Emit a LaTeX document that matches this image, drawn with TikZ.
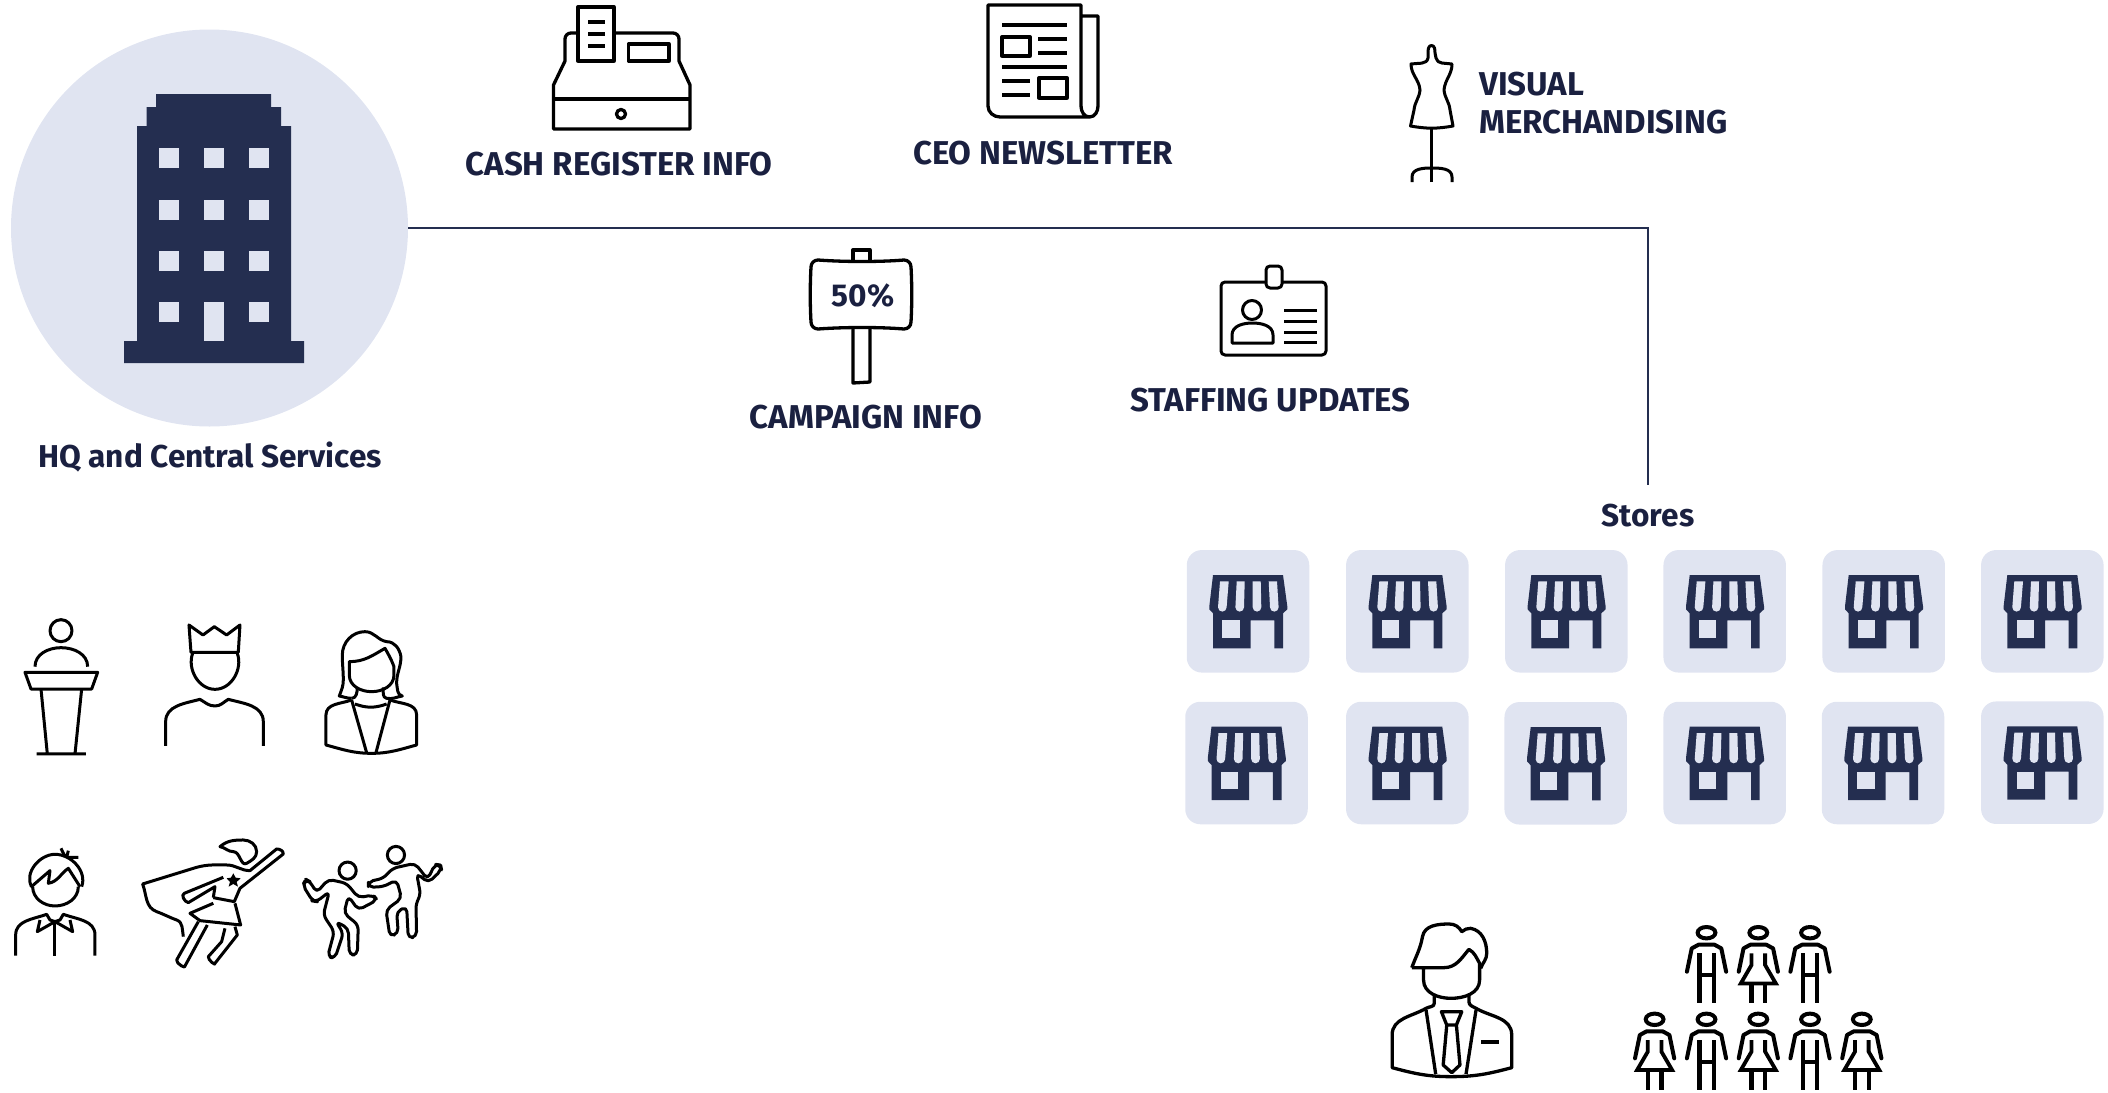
\documentclass[tikz,border=0pt]{standalone}
\usepackage{fontspec}
\setmainfont{Fira Sans}
\usetikzlibrary{positioning}

\definecolor{navy}{HTML}{242E50}
\definecolor{tilebg}{HTML}{E0E4F1}
\definecolor{labelcol}{HTML}{1A2040}

\tikzset{
    label/.style={text=labelcol, font=\fontsize{33}{38}\selectfont\bfseries, inner sep=0pt, align=center},
    lowlabel/.style={label, font=\fontsize{31.6}{38}\selectfont\bfseries},
    tile/.style={fill=tilebg, rounded corners=15pt, minimum size=122.5pt, inner sep=0pt},
    icon/.style={draw=black, line width=3.3pt, line join=round, fill=none},
    thin icon/.style={draw=black, line width=3pt, line join=round, fill=none},
    storeicon/.pic={
        \fill[navy] (-35,-36.3) -- (35,-36.3) -- (39.3,-5) -- (39.3,-2) -- (35,2) -- (35,37) -- (26.3,37) -- (26.3,9) -- (2.7,9) -- (2.7,37) -- (-35,37) -- (-35,2) -- (-38.7,-2) -- (-38.7,-5) -- cycle;
        \fill[tilebg] (-25.7,9) rectangle (-8.3,26.3);
        \foreach \ta/\tb/\bm in {-28/-19.3/-25.7, -11.3/-3.3/-8.3, 4.7/12.7/9, 20.7/29/26.3} {
            \fill[tilebg] (\ta,-30) -- (\tb,-30) -- ({\bm+4.3},-4) arc[start angle=0, end angle=180, radius=4.3] -- cycle;
        }
    },
    manfig/.pic={
        \draw[line width=4pt] (0,0) ellipse[x radius=8.9, y radius=5.7];
        \draw[line width=4pt, line cap=round, line join=round] (-19.6,39) -- (-14.8,15.7) -- (-8,12) -- (8,12) -- (14.8,15.7) -- (19.6,39);
        \draw[line width=4.2pt] (-7.1,20.7) -- (-7.1,70.7) (7.1,20.7) -- (7.1,70.7) (-7.1,42.3) -- (7.1,42.3);
    },
    womanfig/.pic={
        \draw[line width=4pt] (0,0) ellipse[x radius=8.9, y radius=5.7];
        \draw[line width=4pt, line cap=round, line join=round] (-19.6,39) -- (-14.8,15.7) -- (-8,12) -- (8,12) -- (14.8,15.7) -- (19.6,39);
        \draw[line width=3.8pt, line join=miter] (-6.8,20.7) -- (-6.8,32.3) -- (-17.5,50.7) -- (17.5,50.7) -- (6.8,32.3) -- (6.8,20.7);
        \draw[line width=4.2pt] (-6.8,50.7) -- (-6.8,70.7) (6.8,50.7) -- (6.8,70.7);
    }
}

\begin{document}
\begin{tikzpicture}[x=1pt, y=-1pt]
    \useasboundingbox (0,0) rectangle (2108,1092);

    % hq
    \node [circle, fill=tilebg, minimum size=397pt, inner sep=0pt] (hq) at (209.5,228) {};
    \fill[navy] (124,363) -- (124,341) -- (137,341) -- (137,126) -- (146.5,126) -- (146.5,107) -- (156,107) -- (156,94) -- (271,94) -- (271,107) -- (281,107) -- (281,126) -- (291,126) -- (291,341) -- (304,341) -- (304,363) -- cycle;
    \foreach \wy in {148,200,251,302} {
        \foreach \wx in {159,204,249} {
            \fill[tilebg] (\wx,\wy) rectangle ++(19.5,19.5);
        }
    }
    \fill[tilebg] (204,322) rectangle (223.5,341);
    \node [lowlabel] (hqlabel) at (210,457) {HQ and Central Services};

    % cash register
    \draw[icon] (553.5,129) -- (553.5,85) -- (565,61) -- (565,39) to[out=90, in=180] (571,33) -- (673,33) to[out=0, in=90] (679,39) -- (679,61) -- (690,85) -- (690,129) -- cycle;
    \draw[icon] (553.5,99) -- (690,99);
    \draw[icon, fill=white] (578,7) rectangle (614,61);
    \draw[icon] (588,22) -- (605,22) (588,34) -- (605,34) (588,46) -- (605,46);
    \draw[icon] (628.5,44) rectangle (669,61);
    \draw[icon] (621,114) circle (4.5);
    \node [label] (cashlabel) at (619,164) {CASH REGISTER INFO};

    % newsletter
    \draw[icon] (1081,16) -- (1098,16) -- (1098,106) to[out=-90, in=0] (1089.5,117) -- (1000,117) to[out=180, in=-90] (988,106) -- (988,5) -- (1081,5) -- (1081,106) to[out=-90, in=180] (1089.5,117);
    \draw[icon] (1002,25) -- (1067,25) (1002,67) -- (1067,67);
    \draw[icon] (1002,37) rectangle (1030,56) (1039,78) rectangle (1067,98);
    \draw[icon] (1038,39) -- (1067,39) (1038,53) -- (1067,53) (1002,81) -- (1030,81) (1002,95) -- (1030,95);
    \node [label] (ceolabel) at (1043,153) {CEO NEWSLETTER};

    % mannequin
    \begin{scope}[thin icon]
        \draw (1431.5,182) -- (1431.5,128);
        \draw (1412,182) -- (1412,177) to[out=90, in=180] (1431.5,168) to[out=0, in=90] (1452,177) -- (1452,182);
        \draw (1431.5,45.5) to[out=0, in=90] (1435,53) -- (1436,58) to[out=-80, in=170] (1452,64) to[out=-90, in=85] (1444,90) to[out=-85, in=95] (1450,110) -- (1453,126) to[out=190, in=-10] (1410.5,126) -- (1414,110) to[out=85, in=-95] (1420,90) to[out=95, in=-90] (1411,64) to[out=10, in=-100] (1428,58) -- (1428,53) to[out=90, in=180] cycle;
    \end{scope}
    \node [label, align=left, anchor=west] (visuallabel) at (1479,103) {VISUAL\\MERCHANDISING};

    % sign
    \draw[icon] (853,260) -- (853,250) -- (870,250) -- (870,260);
    \draw[icon] (853,329) -- (853,383) -- (870,382) -- (870,329);
    \draw[icon] (818,260) .. controls (845,262) and (880,262) .. (904,260) to[out=0, in=90] (911,267) .. controls (912,285) and (912,305) .. (911,322) to[out=-90, in=0] (904,329) .. controls (880,327) and (845,327) .. (818,329) to[out=180, in=-90] (811,322) .. controls (810,305) and (810,285) .. (811,267) to[out=90, in=180] cycle;
    \node [lowlabel] (pctlabel) at (863,296) {50\%};
    \node [label] (campaignlabel) at (866,417) {CAMPAIGN INFO};

    % badge
    \draw[thin icon, rounded corners=4pt] (1221,282) rectangle (1326,355);
    \draw[thin icon, fill=white, rounded corners=4pt] (1266,266) rectangle (1282,288);
    \draw[thin icon] (1252,310) circle (9.5);
    \draw[thin icon] (1232,343) -- (1232,335) to[out=90, in=180] (1252.5,323) to[out=0, in=90] (1273,335) -- (1273,343) -- cycle;
    \draw[thin icon] (1284,310) -- (1317,310) (1284,321) -- (1317,321) (1284,332) -- (1317,332) (1284,342) -- (1317,342);
    \node [label] (stafflabel) at (1270.5,400) {STAFFING UPDATES};

    % stores
    \node [lowlabel, outer ysep=20pt] (stores) at (1648,516) {Stores};
    \draw[navy, line width=2.8pt] (hq.east) -| (stores.north);

    \foreach \nm/\px/\py in {a/1248/611.3, b/1407.3/611.3, c/1566.3/611.3, d/1724.7/611.3, e/1883.7/611.3, f/2042.3/611.3,
                             g/1246.5/763, h/1407.3/763, i/1565.7/763.3, j/1724.7/763, k/1883/763, l/2042.3/762.7} {
        \node [tile] (tile\nm) at (\px,\py) {};
        \pic at (tile\nm.center) {storeicon};
    }

    % manager
    \begin{scope}[shift={(1360,900)}, x=0.357pt, y=-0.3333pt, icon]
        \draw (145,203) to[out=70, in=-100] (175,110) to[out=80, in=180] (250,72) to[out=0, in=120] (285,95) to[out=30, in=170] (310,85) to[out=-10, in=90] (355,160) to[out=-90, in=70] (338,205);
        \draw (145,203) -- (235,203) to[out=0, in=-130] (305,148) to[out=-30, in=120] (335,190) -- (335,240) to[out=-90, in=0] (255,295) to[out=180, in=-90] (178,240) -- (178,203);
        \draw (208,285) -- (208,310) to[out=-90, in=30] (185,325) to[out=210, in=90] (90,405) -- (90,503) to[out=-15, in=180] (255,530) to[out=0, in=195] (425,503) -- (425,405) to[out=90, in=-30] (325,325) to[out=150, in=-90] (305,305) -- (305,285);
        \draw (185,330) -- (212,522) (325,330) -- (297,522);
        \draw (228,335) -- (285,335) -- (270,375) -- (243,375) -- cycle;
        \draw (243,375) -- (233,495) -- (257,518) -- (280,495) -- (270,375);
        \draw[line width=4pt] (340,425) -- (388,425);
    \end{scope}

    % crowd
    \foreach \nm/\cx/\cy in {manfig/1706.5/932.7, womanfig/1758.3/932.7, manfig/1810/932.7,
                             womanfig/1654.6/1019.3, manfig/1706.5/1019.3, womanfig/1758.3/1019.3, manfig/1810/1019.3, womanfig/1861.8/1019.3} {
        \pic at (\cx,\cy) {\nm};
    }

    % people, traced at three times the size
    \begin{scope}[shift={(0,600)}, x=0.3333pt, y=-0.3333pt, thin icon]
        % speaker
        \draw (183,92) circle (11pt);
        \draw (105,200) to[out=90, in=180] (183,143) to[out=0, in=90] (263,200);
        \draw (75,217) -- (293,217) -- (275,267) -- (93,267) -- cycle;
        \draw (123,267) -- (142,462) (245,267) -- (225,462) (110,462) -- (258,462);
        % king
        \draw (567,75) -- (609,105) -- (643,80) -- (680,105) -- (720,75) -- (715,157) -- (573,157) -- cycle;
        \draw (578,160) to[out=-110, in=180] (645,268) to[out=0, in=-70] (712,160);
        \draw (497,438) -- (497,365) to[out=90, in=195] (600,298) to[out=-30, in=180] (645,318) to[out=0, in=210] (685,298) to[out=-15, in=90] (790,365) -- (790,438);
        % woman
        \draw (1055,295) to[out=180, in=-10] (1018,288) to[out=70, in=-90] (1030,240) to[out=90, in=-90] (1027,165) to[out=90, in=180] (1095,95) to[out=0, in=170] (1160,125) to[out=0, in=100] (1203,170) to[out=-90, in=90] (1190,250) to[out=-80, in=170] (1207,288) to[out=190, in=-10] (1160,295) to[out=170, in=-90] (1150,262);
        \draw (1055,295) to[out=0, in=-90] (1072,262);
        \draw (1048,185) to[out=0, in=210] (1155,145) to[out=-60, in=110] (1182,200) -- (1182,225) to[out=-90, in=0] (1115,275) to[out=180, in=-90] (1048,225) -- cycle;
        \draw (1055,300) to[out=200, in=90] (978,345) -- (978,435) to[out=-15, in=180] (1115,460) to[out=0, in=195] (1250,435) -- (1250,345) to[out=90, in=-20] (1170,300);
        \draw (1055,300) -- (1100,458) (1170,300) -- (1128,458);
        \draw (1065,312) to[out=-20, in=200] (1160,312);
        % boy
        \draw (95,860) to[out=120, in=180] (165,763) to[out=0, in=70] (245,860);
        \draw (92,862) -- (150,812) -- (145,850) to[out=10, in=215] (205,805) -- (240,860);
        \draw (98,860) to[out=-90, in=180] (165,918) to[out=0, in=-90] (235,860);
        \draw (183,745) -- (195,770) (205,752) -- (200,772) (235,772) -- (200,772);
        \draw (47,1067) -- (47,1005) to[out=90, in=200] (140,943) -- (150,960) -- (165,965) -- (180,960) -- (190,943) to[out=-20, in=90] (285,1005) -- (285,1067);
        \draw (120,960) -- (112,995) -- (165,965) -- (218,995) -- (210,960);
        \draw (165,965) -- (165,1067);
        % superhero
        \draw (550,1010) to[out=100, in=-20] (530,960) to[out=160, in=-20] (470,935) to[out=160, in=-70] (428,852) -- (590,802) to[out=15, in=180] (680,795) to[out=0, in=180] (750,812) -- (830,747) to[out=0, in=90] (850,762) -- (720,865) -- (703,905) -- (640,893);
        \draw (670,832) -- (553,880) to[out=200, in=170] (565,908) -- (645,860) -- (640,893);
        \draw (640,910) -- (570,940) -- (600,962) -- (722,975) -- (705,910);
        \draw (595,965) -- (530,1080) to[out=-100, in=-60] (555,1098) -- (622,975);
        \draw (675,985) -- (665,1025) -- (625,1070) to[out=-100, in=-60] (645,1090) -- (712,1005) -- (705,980);
        \draw (660,740) to[out=40, in=180] (730,720) to[out=0, in=90] (770,755) to[out=-90, in=30] (740,790) to[out=210, in=0] (700,755) to[out=180, in=-10] cycle;
        \fill[black] (700,820) -- (707,833) -- (722,835) -- (710,846) -- (714,860) -- (700,852) -- (686,860) -- (690,846) -- (680,835) -- (693,833) -- cycle;
        % dancers
        \draw (1043,812) circle (8.6pt);
        \draw (1188,765) circle (8.6pt);
        \draw[rounded corners=5pt] (918,838) -- (930,845) -- (950,878) -- (985,838) -- (1040,850) -- (1075,893) -- (1120,885) -- (1132,900) -- (1075,930) -- (1045,888) -- (1032,940) -- (1075,975) -- (1072,1065) -- (1048,1065) -- (1045,985) -- (1008,965) -- (1030,1000) -- (1005,1075) -- (983,1070) -- (1003,995) -- (970,945) -- (988,875) -- (950,905) -- (938,903) -- (908,855) -- cycle;
        \draw[rounded corners=5pt] (1105,845) -- (1150,835) -- (1178,805) -- (1245,790) -- (1283,838) -- (1305,793) -- (1322,795) -- (1325,810) -- (1285,848) -- (1250,820) -- (1262,885) -- (1248,910) -- (1250,1010) -- (1225,1015) -- (1220,920) -- (1190,935) -- (1195,1000) -- (1170,1010) -- (1158,930) -- (1205,895) -- (1190,840) -- (1150,860) -- (1105,862) -- cycle;
    \end{scope}
\end{tikzpicture}
\end{document}
